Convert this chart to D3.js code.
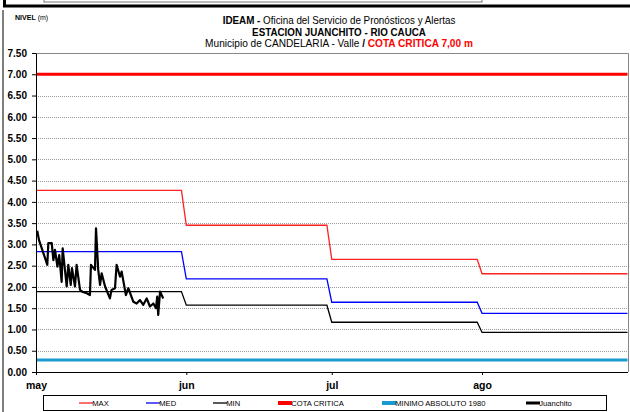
<!DOCTYPE html>
<html>
<head>
<meta charset="utf-8">
<script src="https://cdn.jsdelivr.net/npm/d3@7"></script>
<style>
  body { margin: 0; background: #fff; }
  svg { display: block; }
  text { font-family: "Liberation Sans", Arial, sans-serif; fill: #000; }
</style>
</head>
<body>
<svg id="chart" width="630" height="412"></svg>
<script>
// month categories on the x axis
var months = ["may", "jun", "jul", "ago"];
var monthStarts = ["2014-05-01", "2014-06-01", "2014-07-01", "2014-08-01"];
var monthEnds = ["2014-05-31", "2014-06-30", "2014-07-31", "2014-08-31"];

// historic monthly levels (m)
var maxLevels = [4.27, 3.45, 2.65, 2.31];
var medLevels = [2.83, 2.19, 1.64, 1.38];
var minLevels = [1.89, 1.57, 1.17, 0.93];
var cotaCritica = 7.00;
var minimoAbsoluto = 0.28;

// y tick labels
var yTicks = [0, 0.5, 1, 1.5, 2, 2.5, 3, 3.5, 4, 4.5, 5, 5.5, 6, 6.5, 7, 7.5];

// observed level at Juanchito
var juanchitoTimes = [
  "2014-05-01T06:00", "2014-05-01T15:00", "2014-05-03T08:00", "2014-05-03T13:00",
  "2014-05-04T06:00", "2014-05-04T14:00", "2014-05-04T22:00", "2014-05-05T10:00",
  "2014-05-05T19:00", "2014-05-06T07:00", "2014-05-06T12:00", "2014-05-07T08:00",
  "2014-05-07T16:00", "2014-05-08T04:00", "2014-05-08T10:00", "2014-05-09T01:00",
  "2014-05-09T09:00", "2014-05-10T02:00", "2014-05-10T16:00", "2014-05-11T11:00",
  "2014-05-12T03:00", "2014-05-12T08:00", "2014-05-13T04:00", "2014-05-13T09:00",
  "2014-05-13T20:00", "2014-05-14T05:00", "2014-05-14T13:00", "2014-05-15T06:00",
  "2014-05-16T06:00", "2014-05-16T14:00", "2014-05-17T07:00", "2014-05-17T15:00",
  "2014-05-18T08:00", "2014-05-18T16:00", "2014-05-19T13:00", "2014-05-20T01:00",
  "2014-05-21T02:00", "2014-05-21T18:00", "2014-05-22T11:00", "2014-05-23T03:00",
  "2014-05-23T20:00", "2014-05-24T12:00", "2014-05-25T05:00", "2014-05-25T18:00",
  "2014-05-26T00:00", "2014-05-26T05:00", "2014-05-26T14:00", "2014-05-27T06:00"
];
var juanchitoLevels = [
  3.32, 3.10, 2.52, 3.03,
  3.03, 2.63, 2.87, 2.48,
  2.75, 2.12, 2.91, 2.01,
  2.52, 2.05, 2.44, 2.01,
  2.52, 1.93, 1.88, 1.85,
  1.81, 2.52, 2.40, 3.38,
  2.40, 2.05, 2.32, 2.01,
  1.73, 1.93, 1.97, 2.52,
  2.24, 2.36, 1.81, 1.97,
  1.65, 1.61, 1.69, 1.58,
  1.73, 1.54, 1.61, 1.50,
  1.77, 1.34, 1.89, 1.73
];

var legendLabels = ["MAX", "MED", "MIN", "COTA CRITICA", "MINIMO ABSOLUTO 1980", "Juanchito"];

var parseDay = d3.timeParse("%Y-%m-%d");
var parseTime = d3.timeParse("%Y-%m-%dT%H:%M");

var svg = d3.select("#chart");

// plot area
var pLeft = 36, pRight = 628, pTop = 53, pBottom = 372;

var x = d3.scaleTime()
  .domain([parseDay(monthStarts[0]), parseDay(monthEnds[3])])
  .range([pLeft, 627.5]);
var y = d3.scaleLinear().domain([0, 7.5]).range([pBottom, pTop]);

// page frame
svg.append("rect").attr("x", 44).attr("y", -6).attr("width", 438).attr("height", 8)
  .attr("fill", "none").attr("stroke", "#777").attr("stroke-width", 1);
svg.append("rect").attr("x", 3).attr("y", 4.5).attr("width", 627).attr("height", 3).attr("fill", "#000");
svg.append("rect").attr("x", 3).attr("y", 0).attr("width", 3).attr("height", 6).attr("fill", "#000");
svg.append("line").attr("x1", 3).attr("x2", 3).attr("y1", 10).attr("y2", 412)
  .attr("stroke", "#555").attr("stroke-width", 1.5);

// gridlines
svg.append("g").selectAll("line")
  .data(yTicks.filter(function(d) { return d > 0 && d < 7.5; }))
  .enter().append("line")
  .attr("x1", pLeft).attr("x2", pRight)
  .attr("y1", function(d) { return Math.round(y(d)) + 0.5; })
  .attr("y2", function(d) { return Math.round(y(d)) + 0.5; })
  .attr("stroke", "#9a9a9a").attr("stroke-dasharray", "1,1");

// plot border (top + right)
svg.append("path")
  .attr("d", "M" + pLeft + "," + (pTop + 0.5) + "H" + (pRight + 0.5) + "V" + pBottom)
  .attr("fill", "none").attr("stroke", "#888");

// monthly step lines
function stepPoints(levels) {
  var pts = [];
  levels.forEach(function(v, i) {
    pts.push([parseDay(monthStarts[i]), v]);
    pts.push([parseDay(monthEnds[i]), v]);
  });
  return pts;
}
var line = d3.line().x(function(d) { return x(d[0]); }).y(function(d) { return y(d[1]); });

var flat = function(v) { return [[x.domain()[0], v], [x.domain()[1], v]]; };

svg.append("path").attr("d", line(flat(cotaCritica)))
  .attr("fill", "none").attr("stroke", "#ff0000").attr("stroke-width", 3);
svg.append("path").attr("d", line(flat(minimoAbsoluto)))
  .attr("fill", "none").attr("stroke", "#1b9ad2").attr("stroke-width", 3);

svg.append("path").attr("d", line(stepPoints(maxLevels)))
  .attr("fill", "none").attr("stroke", "#ff2020").attr("stroke-width", 1.3);
svg.append("path").attr("d", line(stepPoints(medLevels)))
  .attr("fill", "none").attr("stroke", "#0000ff").attr("stroke-width", 1.3);
svg.append("path").attr("d", line(stepPoints(minLevels)))
  .attr("fill", "none").attr("stroke", "#000").attr("stroke-width", 1.3);

// juanchito
var obs = juanchitoTimes.map(function(t, i) { return [parseTime(t), juanchitoLevels[i]]; });
svg.append("path").attr("d", line(obs))
  .attr("fill", "none").attr("stroke", "#000").attr("stroke-width", 2.2)
  .attr("stroke-linejoin", "round");

// axes
var yAxis = svg.append("g").attr("transform", "translate(" + pLeft + ",0)")
  .call(d3.axisLeft(y).tickValues(yTicks).tickFormat(d3.format(".2f")).tickSize(4).tickSizeOuter(0).tickPadding(5));
yAxis.selectAll("text").attr("font-size", 10).attr("font-weight", "bold");

var xAxis = svg.append("g").attr("transform", "translate(0," + pBottom + ")")
  .call(d3.axisBottom(x).tickValues(monthStarts.map(parseDay))
    .tickFormat(function(d, i) { return months[i]; }).tickSize(3).tickSizeOuter(0).tickPadding(7));
xAxis.selectAll("text").attr("font-size", 10.5).attr("font-weight", "bold");
svg.selectAll(".domain").attr("stroke", "#000");

// squeeze a text to a target width
function fitWidth(sel, cx, cy, w) {
  var bw = sel.node().getComputedTextLength();
  sel.attr("transform", "translate(" + cx + "," + cy + ") scale(" + (w / bw) + ",1)");
}

// titles
var t1 = svg.append("text").attr("text-anchor", "middle").attr("font-size", 10);
t1.append("tspan").attr("font-weight", "bold").text("IDEAM - ");
t1.append("tspan").text("Oficina del Servicio de Pronósticos y Alertas");
fitWidth(t1, 339, 24, 233);

var t2 = svg.append("text").attr("text-anchor", "middle").attr("font-size", 10).attr("font-weight", "bold")
  .text("ESTACION JUANCHITO - RIO CAUCA");
fitWidth(t2, 339, 35.5, 174);

var t3 = svg.append("text").attr("text-anchor", "middle").attr("font-size", 10);
t3.append("tspan").text("Municipio de CANDELARIA - Valle ");
t3.append("tspan").attr("font-weight", "bold").text("/ ");
t3.append("tspan").attr("font-weight", "bold").style("fill", "#ff0000").text("COTA CRITICA 7,00 m");
fitWidth(t3, 339, 47, 268);

var nv = svg.append("text").attr("font-size", 8);
nv.append("tspan").attr("font-weight", "bold").text("NIVEL");
nv.append("tspan").text(" (m)");
nv.attr("transform", "translate(15,20) scale(0.88,1)");

// legend
svg.append("rect").attr("x", 43.5).attr("y", 395.5).attr("width", 563).attr("height", 15)
  .attr("fill", "#fff").attr("stroke", "#000");
var legendColors = ["#ff2020", "#0000ff", "#000", "#ff0000", "#1b9ad2", "#000"];
var legendWidths = [1.3, 1.3, 1.3, 4, 4, 3];
var legendX = [79, 146, 213, 278, 382, 526];
var lg = svg.append("g").selectAll("g").data(legendLabels).enter().append("g")
  .attr("transform", function(d, i) { return "translate(" + legendX[i] + ",403)"; });
lg.append("line").attr("x1", 0).attr("x2", 14)
  .attr("stroke", function(d, i) { return legendColors[i]; })
  .attr("stroke-width", function(d, i) { return legendWidths[i]; });
lg.append("text").attr("x", 14).attr("y", 3).attr("font-size", 8)
  .attr("transform", "scale(0.95,1)")
  .text(function(d) { return d; });
</script>
</body>
</html>
